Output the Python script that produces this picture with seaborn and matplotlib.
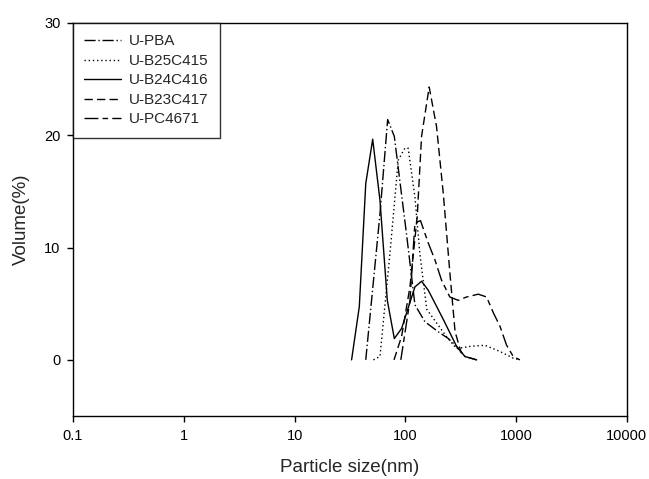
import numpy as np
import pandas as pd
import matplotlib
matplotlib.use("Agg")
import matplotlib.pyplot as plt
import seaborn as sns

# --- data ---
pba_x = [43.9, 59, 69.2, 79.5, 89, 103, 122, 150, 198, 244, 290, 345, 440]
pba_y = [0, 13.0, 21.4, 19.9, 16.0, 11.0, 4.9, 3.4, 2.5, 1.9, 1.2, 0.3, 0]

b25_x = [51.5, 59, 72.6, 86.3, 99, 106, 122, 135, 156, 191, 234, 290, 383, 523, 714, 942, 1081]
b25_y = [0, 0.3, 9.5, 17.8, 18.85, 18.85, 14.5, 9.5, 4.5, 3.3, 2.1, 1.0, 1.2, 1.3, 0.75, 0.15, 0]

b24_x = [32.7, 38.4, 43.9, 50.7, 59, 68.7, 79.5, 92.5, 122, 140, 161, 220, 290, 345, 440]
b24_y = [0, 4.75, 15.7, 19.65, 14.2, 5.3, 1.9, 2.8, 6.5, 7.0, 6.2, 3.6, 1.2, 0.3, 0]

b23_x = [79, 92.5, 110, 128, 140, 164, 191, 220, 251, 281, 320]
b23_y = [0, 2.1, 6.5, 12.8, 19.9, 24.3, 20.8, 14.8, 8.0, 2.5, 0.6]

pc_x = [91, 110, 122, 137, 161, 185, 212, 252, 300, 357, 455, 541, 622, 714, 820, 942, 1081]
pc_y = [0, 5.3, 12.2, 12.4, 10.4, 8.9, 7.1, 5.6, 5.3, 5.6, 5.85, 5.6, 4.2, 3.0, 1.3, 0.3, 0]

labels = ["U-PBA", "U-B25C415", "U-B24C416", "U-B23C417", "U-PC4671"]
xs = [pba_x, b25_x, b24_x, b23_x, pc_x]
ys = [pba_y, b25_y, b24_y, b23_y, pc_y]

x_ticks = [0.1, 1, 10, 100, 1000, 10000]
x_ticklabels = ["0.1", "1", "10", "100", "1000", "10000"]
y_ticks = [0, 10, 20, 30]

# --- long table for seaborn ---
frames = []
for name, x, y in zip(labels, xs, ys):
    frames.append(pd.DataFrame({"size": x, "volume": y, "sample": name}))
df = pd.concat(frames, ignore_index=True)

dash_map = {
    "U-PBA": (8, 2, 1, 2),
    "U-B25C415": (1, 2),
    "U-B24C416": "",
    "U-B23C417": (6, 3),
    "U-PC4671": (10, 3, 4, 3),
}

sns.set_style("ticks")
plt.rcParams["font.family"] = ["Liberation Sans", "DejaVu Sans"]

fig = plt.figure(figsize=(6.49, 4.79), dpi=100)
ax = fig.add_axes([0.1125, 0.1315, 0.8535, 0.8205])

sns.lineplot(data=df, x="size", y="volume", style="sample", style_order=labels,
             dashes=dash_map, color="black", linewidth=1, sort=False,
             estimator=None, ax=ax)

ax.set_xscale("log")
ax.set_xlim(0.1, 10000)
ax.set_ylim(-5, 30)
ax.set_xticks(x_ticks)
ax.set_xticklabels(x_ticklabels)
ax.minorticks_off()
ax.set_yticks(y_ticks)
ax.tick_params(axis="both", direction="out", length=4, width=1, labelsize=10.5,
               colors="black", top=False, right=False, pad=5)
for side in ["top", "right", "bottom", "left"]:
    ax.spines[side].set_visible(True)
    ax.spines[side].set_linewidth(1)
    ax.spines[side].set_color("black")

ax.set_xlabel("Particle size(nm)", fontsize=13.5, labelpad=12)
ax.set_ylabel("Volume(%)", fontsize=13.5, labelpad=10)

leg = ax.legend(loc="upper left", borderaxespad=0, fontsize=11, frameon=True,
                fancybox=False, handlelength=2.4, handletextpad=0.5,
                labelspacing=0.36, borderpad=0.75)
leg.get_frame().set_edgecolor("black")
leg.get_frame().set_linewidth(1)

fig.savefig("out.png", dpi=100)
